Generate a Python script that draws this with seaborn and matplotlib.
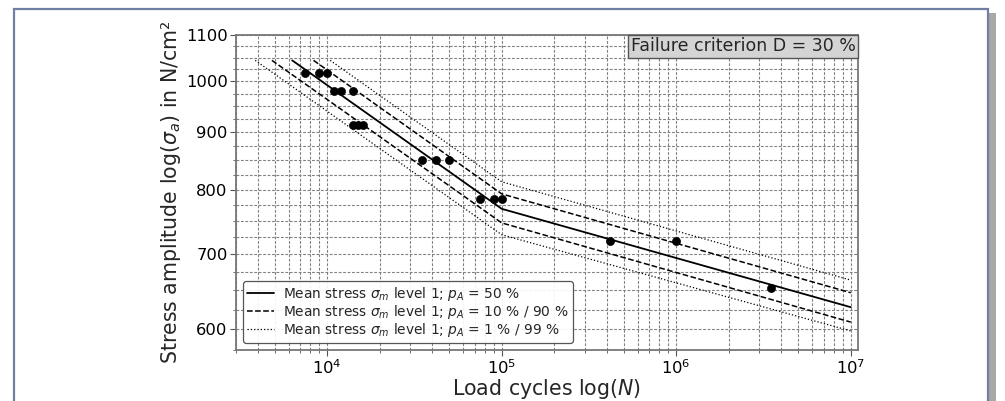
import matplotlib
matplotlib.use("Agg")
import matplotlib.pyplot as plt
import seaborn as sns
from matplotlib.patches import Rectangle
from matplotlib.ticker import MultipleLocator, FixedLocator, ScalarFormatter, NullFormatter
from matplotlib.offsetbox import AnchoredText

# test points (load cycles, stress amplitude)
cycles = [7500, 9000, 10000, 11000, 12000, 14000, 14000, 15000, 16000,
          35000, 42000, 50000, 75000, 90000, 100000,
          420000, 1000000, 3500000]
stress = [1018, 1018, 1018, 980, 980, 980, 913, 913, 913,
          850, 850, 850, 785, 785, 785,
          719, 719, 653]

# S-N curves (start, knee at 1e5, end at 1e7)
knee_end = [1e5, 1e7]
n_p50 = [6300] + knee_end
s_p50 = [1044, 769, 628]
n_p90 = [8350] + knee_end
s_p90 = [1044, 793, 647]
n_p10 = [4820] + knee_end
s_p10 = [1044, 747, 609]
n_p99 = [10400] + knee_end
s_p99 = [1044, 813, 664]
n_p01 = [3870] + knee_end
s_p01 = [1044, 729, 598]

lbl_50 = r"Mean stress $\sigma_m$ level 1; $p_A$ = 50 %"
lbl_10 = r"Mean stress $\sigma_m$ level 1; $p_A$ = 10 % / 90 %"
lbl_01 = r"Mean stress $\sigma_m$ level 1; $p_A$ = 1 % / 99 %"

sns.set_style("ticks")
plt.rcParams["font.family"] = ["DejaVu Sans"]

fig = plt.figure(figsize=(10.05, 4.01), dpi=100)
ax = fig.add_axes([0.2348, 0.1272, 0.6189, 0.7855])
ax.set_zorder(2)

grid_kw = dict(color="#808080", linestyle=(0, (2.5, 1.5)), linewidth=0.8)
ax.set_axisbelow(True)

sns.lineplot(x=n_p50, y=s_p50, ax=ax, color="k", lw=1.3, label=lbl_50, sort=False)
sns.lineplot(x=n_p90, y=s_p90, ax=ax, color="k", lw=1.1, linestyle="--", label=lbl_10, sort=False)
sns.lineplot(x=n_p10, y=s_p10, ax=ax, color="k", lw=1.1, linestyle="--", sort=False)
sns.lineplot(x=n_p99, y=s_p99, ax=ax, color="k", lw=0.9, linestyle=":", label=lbl_01, sort=False)
sns.lineplot(x=n_p01, y=s_p01, ax=ax, color="k", lw=0.9, linestyle=":", sort=False)
sns.scatterplot(x=cycles, y=stress, ax=ax, color="k", s=34, edgecolor="k", zorder=5)

ax.set_xscale("log")
ax.set_yscale("log")
ax.set_xlim(3000, 1.1e7)
ax.set_ylim(575, 1100)

ax.yaxis.set_major_locator(FixedLocator([600, 700, 800, 900, 1000, 1100]))
ax.yaxis.set_major_formatter(ScalarFormatter())
ax.yaxis.set_minor_locator(MultipleLocator(25))
ax.yaxis.set_minor_formatter(NullFormatter())

ax.grid(True, which="both", **grid_kw)

for sp in ax.spines.values():
    sp.set_visible(True)
    sp.set_color("#777777")
    sp.set_linewidth(1.3)
ax.tick_params(which="both", colors="#555555", labelcolor="black", labelsize=11.8, pad=2)
ax.tick_params(which="major", length=4)
ax.tick_params(which="minor", length=2.5)

ax.set_xlabel(r"Load cycles log($N$)", fontsize=14.8, labelpad=0)
ax.set_ylabel(r"Stress amplitude log($\sigma_a$) in N/cm²", fontsize=14.8, labelpad=2)

leg = ax.legend(loc="lower left", fontsize=9.9, framealpha=0.9,
                edgecolor="#444444", handlelength=1.95, handletextpad=0.7,
                labelspacing=0.0, borderpad=0.3)
leg.get_frame().set_linewidth(0.9)

at = AnchoredText("Failure criterion D = 30 %", loc="upper right",
                  prop=dict(size=12.5), frameon=True, pad=0.14, borderpad=0)
at.patch.set_facecolor("#d4d4d4")
at.patch.set_edgecolor("#555555")
at.patch.set_linewidth(1.0)
at.patch.set_boxstyle("square,pad=0")
ax.add_artist(at)

# screenshot-style border around the figure
W, H = 1005.0, 401.0
fig.patches.append(Rectangle((989 / W, 0), 7 / W, (H - 13) / H,
                             transform=fig.transFigure, facecolor="#a8a8a8",
                             edgecolor="none", zorder=-2))
fig.patches.append(Rectangle((14 / W, -0.05), 974 / W, (H - 9) / H + 0.05,
                             transform=fig.transFigure, facecolor="white",
                             edgecolor="#7080a4", linewidth=1.6, zorder=-1))

fig.savefig("out.png", dpi=100)
